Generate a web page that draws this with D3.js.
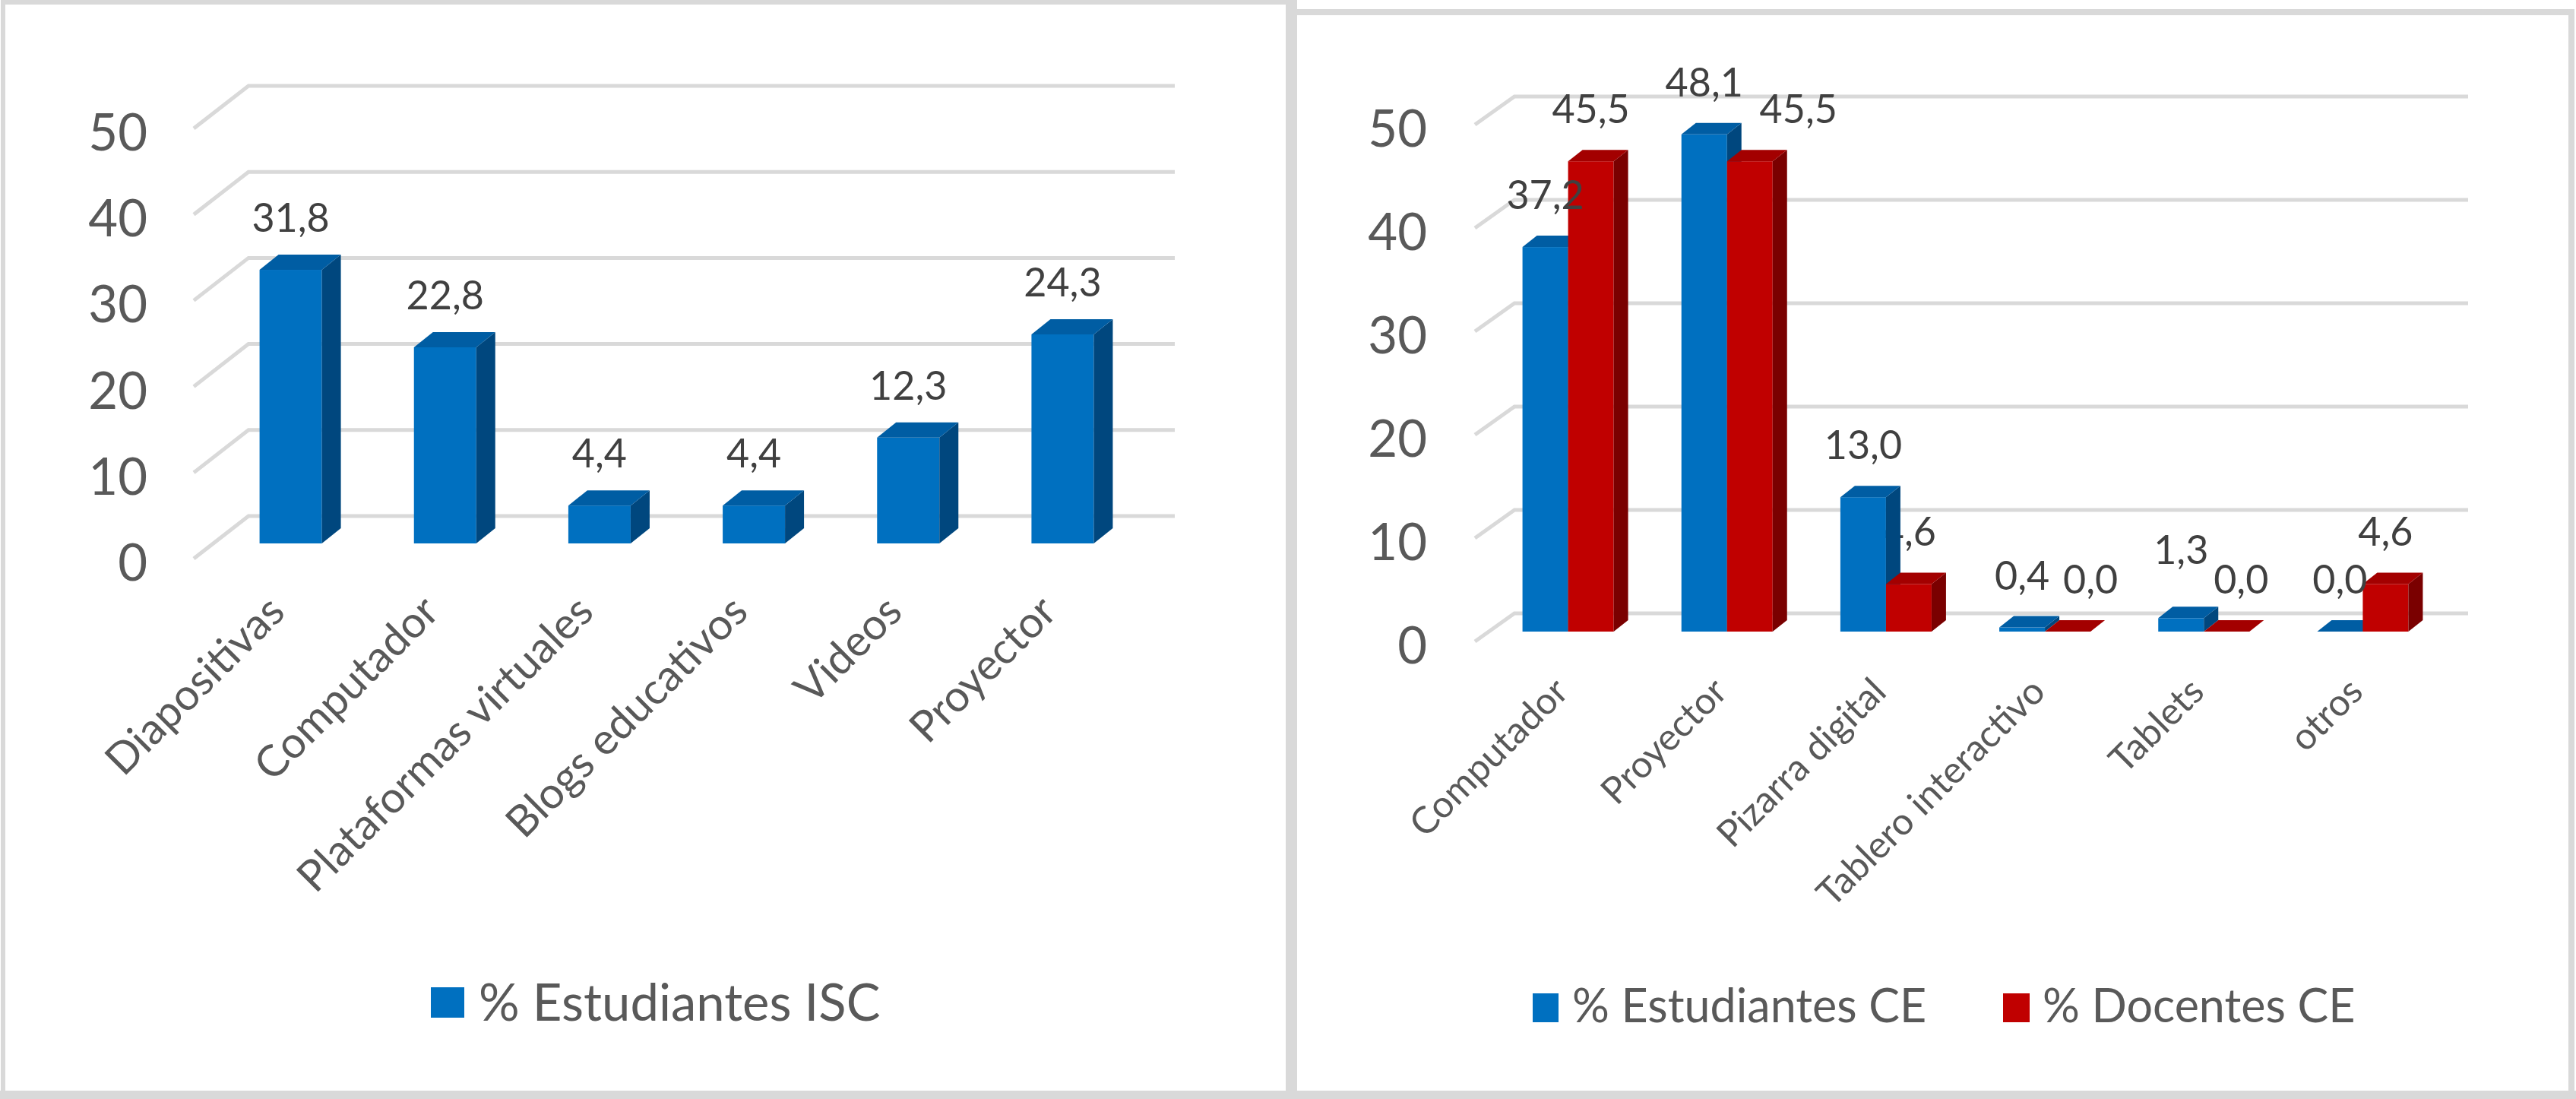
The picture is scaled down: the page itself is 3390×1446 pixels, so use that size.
<!DOCTYPE html>
<html>
<head>
<meta charset="utf-8">
<script src="https://cdn.jsdelivr.net/npm/d3@7/dist/d3.min.js"></script>
<style>
  html, body { margin: 0; padding: 0; background: #ffffff; }
  svg { display: block; }
  text { font-family: Lato, "Open Sans", sans-serif; }
</style>
</head>
<body>
<svg id="chart" width="3390" height="1446"></svg>
<script>
// ---------------- DATA ----------------
const leftCategories = ["Diapositivas", "Computador", "Plataformas virtuales", "Blogs educativos", "Videos", "Proyector"];
const leftValues = [31.8, 22.8, 4.4, 4.4, 12.3, 24.3];
const leftSeriesName = "% Estudiantes ISC";

const rightCategories = ["Computador", "Proyector", "Pizarra digital", "Tablero interactivo", "Tablets", "otros"];
const rightEstudiantes = [37.2, 48.1, 13.0, 0.4, 1.3, 0.0];
const rightDocentes = [45.5, 45.5, 4.6, 0.0, 0.0, 4.6];
const rightSeriesNames = ["% Estudiantes CE", "% Docentes CE"];

const yTickValues = [0, 10, 20, 30, 40, 50];

// ---------------- STYLE ----------------
const BLUE = { front: "#0070C0", top: "#005DA3", side: "#00477E" };
const RED  = { front: "#C00000", top: "#A30000", side: "#7A0000" };
const GRID = "#d9d9d9";
const fmt = v => d3.format(".1f")(v).replace(".", ",");

const svg = d3.select("#chart");

// panel frames
svg.append("rect").attr("x", 4).attr("y", 3).attr("width", 1694).attr("height", 1438)
  .attr("fill", "#fff").attr("stroke", GRID).attr("stroke-width", 6);
svg.append("rect").attr("x", 1703).attr("y", 16).attr("width", 1681).attr("height", 1424)
  .attr("fill", "#fff").attr("stroke", GRID).attr("stroke-width", 8);
svg.append("rect").attr("x", 1692).attr("y", 0).attr("width", 15).attr("height", 1446).attr("fill", GRID);
svg.append("rect").attr("x", 0).attr("y", 1435).attr("width", 3390).attr("height", 11).attr("fill", GRID);

function draw3D(cfg, categories, series) {
  const g = svg.append("g");
  const x = d3.scaleBand().domain(categories).range(cfg.bandRange).paddingInner(0).paddingOuter(0);
  const y = d3.scaleLinear().domain([0, 50]).range([cfg.baseY, cfg.baseY - 50 * cfg.unit]);
  const [x0, x1] = cfg.bandRange;
  const F = cfg.front, B = cfg.back, D = cfg.depth;

  // gridlines (3D walls)
  g.append("g").selectAll("polyline").data(yTickValues).join("polyline")
    .attr("points", v => [
      [x0 + F.dx, y(v) + F.dy],
      [x0 + B.dx, y(v) + B.dy],
      [x1 + B.dx, y(v) + B.dy]
    ].map(p => p.join(",")).join(" "))
    .attr("fill", "none").attr("stroke", GRID).attr("stroke-width", 5);

  // y tick labels
  g.append("g").selectAll("text").data(yTickValues).join("text")
    .attr("x", cfg.yLabelX).attr("y", v => y(v) + F.dy + 3)
    .attr("text-anchor", "end").attr("dominant-baseline", "central")
    .attr("font-size", cfg.yFont).attr("fill", "#595959")
    .text(d => d);

  const nS = series.length;
  const barW = cfg.barWidth;
  const barX = (ci, si) => x(categories[ci]) + x.bandwidth() / 2 - (nS * barW) / 2 + si * barW;

  const labelData = [];
  series.forEach((s, si) => s.values.forEach((v, ci) => {
    const nudge = (cfg.nudge && cfg.nudge[si + "-" + ci]) || [0, 0];
    labelData.push({ si, ci, v, x: barX(ci, si) + barW / 2 + nudge[0], y: y(v) - cfg.labelGap + nudge[1] });
  }));

  const labelsLayer = (filter) => g.append("g").selectAll("text").data(labelData.filter(filter)).join("text")
    .attr("x", d => d.x).attr("y", d => d.y)
    .attr("text-anchor", "middle").attr("font-size", cfg.labelFont).attr("fill", "#404040")
    .text(d => fmt(d.v));

  // labels of later series drawn behind the bars
  labelsLayer(d => d.si > 0);

  // bars
  const barsG = g.append("g");
  categories.forEach((c, ci) => {
    series.forEach((s, si) => {
      const v = s.values[ci];
      const bx = barX(ci, si), top = y(v), base = y(0);
      const col = s.color;
      barsG.append("rect").attr("x", bx).attr("y", top).attr("width", barW).attr("height", base - top)
        .attr("fill", col.front);
      barsG.append("polygon").attr("points", [
        [bx + barW, top], [bx + barW + D.dx, top + D.dy], [bx + barW + D.dx, base + D.dy], [bx + barW, base]
      ].map(p => p.join(",")).join(" ")).attr("fill", col.side);
      barsG.append("polygon").attr("points", [
        [bx, top], [bx + D.dx, top + D.dy], [bx + barW + D.dx, top + D.dy], [bx + barW, top]
      ].map(p => p.join(",")).join(" ")).attr("fill", col.top);
    });
  });

  labelsLayer(d => d.si === 0);

  // category labels
  g.append("g").selectAll("text").data(categories).join("text")
    .attr("transform", c => `translate(${x(c) + x.bandwidth() / 2 + cfg.xLabelShift},${y(0) + F.dy + cfg.xLabelGap}) rotate(-45)`)
    .attr("dy", "0.72em")
    .attr("text-anchor", "end").attr("font-size", cfg.xFont).attr("fill", "#595959")
    .text(d => d);

  // legend
  const lg = g.append("g");
  series.forEach((s, si) => {
    const L = cfg.legend[si];
    lg.append("rect").attr("x", L.sx).attr("y", L.sy).attr("width", L.sw).attr("height", L.sh).attr("fill", s.color.front);
    lg.append("text").attr("x", L.tx).attr("y", L.ty).attr("font-size", cfg.legendFont).attr("fill", "#595959").text(s.name);
  });
}

draw3D({
  bandRange: [281, 1500], baseY: 715, unit: 11.32,
  front: { dx: -26, dy: 20 }, back: { dx: 46, dy: -36 }, depth: { dx: 25, dy: -20 },
  barWidth: 82, yLabelX: 194, yFont: 67, labelFont: 52, labelGap: 50, xFont: 57, xLabelGap: 44, xLabelShift: -34,
  legendFont: 67,
  legend: [{ sx: 567, sy: 1299, sw: 44, sh: 40, tx: 630, ty: 1343 }]
}, leftCategories, [{ name: leftSeriesName, values: leftValues, color: BLUE }]);

draw3D({
  bandRange: [1959, 3214], baseY: 831, unit: 13.6,
  front: { dx: -18, dy: 13 }, back: { dx: 34, dy: -24 }, depth: { dx: 19, dy: -15 },
  barWidth: 60, yLabelX: 1878, yFont: 67, labelFont: 52, labelGap: 50, xFont: 49, xLabelGap: 44, xLabelShift: -22,
  legendFont: 61,
  nudge: { "1-1": [64, 0], "1-3": [30, 0], "1-4": [19, 0], "0-4": [0, -21] },
  legend: [
    { sx: 2017, sy: 1307, sw: 34, sh: 38, tx: 2069, ty: 1345 },
    { sx: 2636, sy: 1307, sw: 35, sh: 38, tx: 2688, ty: 1345 }
  ]
}, rightCategories, [
  { name: rightSeriesNames[0], values: rightEstudiantes, color: BLUE },
  { name: rightSeriesNames[1], values: rightDocentes, color: RED }
]);
</script>
</body>
</html>
